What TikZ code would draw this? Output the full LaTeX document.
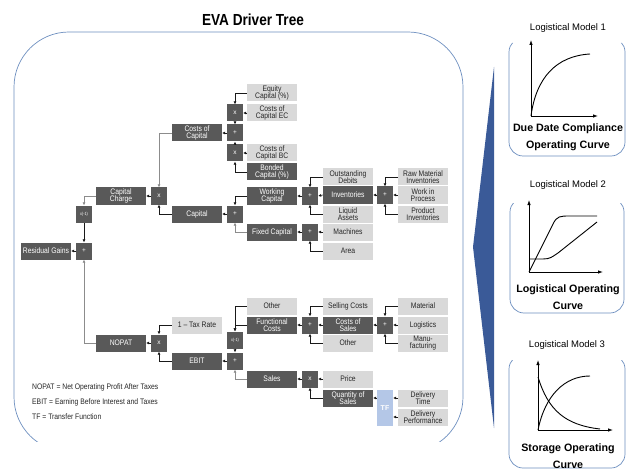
\documentclass[tikz,border=0pt]{standalone}
\usepackage{fontspec}
\setmainfont{Liberation Sans}
\newfontfamily\narrowfont[FakeStretch=0.85]{Liberation Sans}
\usepackage{tikz}
\usetikzlibrary{arrows.meta}
\definecolor{boxdark}{HTML}{595959}
\definecolor{boxlight}{HTML}{D9D9D9}
\definecolor{tfblue}{HTML}{B4C7E7}
\definecolor{frameblue}{HTML}{6C8EBF}
\definecolor{wedgeblue}{HTML}{3A5A98}

\begin{document}
\begin{tikzpicture}[
  x=1pt, y=-1pt,
  every node/.style={
    inner sep=0pt,
    align=center,
  },
  darkbox/.style={
    fill=boxdark,
    text=white,
    minimum width=50pt,
    minimum height=17pt,
    font=\narrowfont\fontsize{8}{7.5}\selectfont,
  },
  lightbox/.style={
    darkbox,
    fill=boxlight,
    text=black!85,
  },
  opbox/.style={
    fill=boxdark,
    text=white,
    minimum width=16pt,
    minimum height=17pt,
    font=\fontsize{6.5}{6.5}\selectfont,
  },
  negbox/.style={opbox, font=\narrowfont\fontsize{4.5}{4.5}\selectfont},
  link/.style={draw=black!90, line width=0.6pt, -{Latex[length=3pt,width=3pt]}},
  glink/.style={link, draw=black!45},
  axis/.style={line width=0.8pt, -{Latex[length=5pt,width=3.5pt]}},
  curve/.style={line width=0.9pt},
  legend/.style={anchor=west, text=black!85, font=\narrowfont\fontsize{8}{9}\selectfont},
  modeltitle/.style={font=\fontsize{9.5}{10}\selectfont},
  modelname/.style={font=\bfseries\fontsize{10.7}{17}\selectfont},
]
  \useasboundingbox (0,0) rectangle (626,473);

  % frames
  \begin{scope}
    \clip (0,0) rectangle (470,441);
    \draw[frameblue, line width=0.7pt, rounded corners=55pt] (14,32) rectangle (463,452);
  \end{scope}
  \begin{scope}
    \clip (500,43) rectangle (626,170) (500,203) rectangle (626,330) (500,360) rectangle (626,473);
    \draw[frameblue, line width=0.7pt, rounded corners=14pt] (509,38) rectangle (625,156);
    \draw[frameblue, line width=0.7pt, rounded corners=14pt] (510,198) rectangle (624,313);
    \draw[frameblue, line width=0.7pt, rounded corners=14pt] (509,355) rectangle (625,468);
  \end{scope}
  \fill[wedgeblue] (494,67) -- (473,247) -- (494,428) -- cycle;

  \node (title) at (253,20) {\narrowfont\bfseries\fontsize{16}{16}\selectfont EVA Driver Tree};

  % capital charge branch
  \node[lightbox] (eqcap) at (272,93) {Equity\\Capital (\%)};
  \node[lightbox] (ccec) at (272,113) {Costs of\\Capital EC};
  \node[lightbox] (ccbc) at (272,153) {Costs of\\Capital BC};
  \node[darkbox] (bonded) at (272,172) {Bonded\\Capital (\%)};
  \node[opbox] (mulec) at (235,113) {x};
  \node[opbox] (addcc) at (235,133) {+};
  \node[opbox] (mulbc) at (235,153) {x};
  \node[darkbox] (coc) at (197,133) {Costs of\\Capital};
  \node[opbox] (mulcharge) at (159,196) {x};
  \node[darkbox] (charge) at (121,196) {Capital\\Charge};
  \node[negbox] (negcharge) at (84,214) {x(-1)};
  \node[opbox] (addrg) at (84,251) {+};
  \node[darkbox] (resgain) at (46,251) {Residual Gains};
  \node[darkbox] (capital) at (197,214) {Capital};
  \node[opbox] (addcap) at (235,214) {+};
  \node[darkbox] (wc) at (272,196) {Working\\Capital};
  \node[darkbox] (fixcap) at (272,232) {Fixed Capital};
  \node[opbox] (addwc) at (310,196) {+};
  \node[opbox] (addfix) at (310,232) {+};
  \node[lightbox] (debits) at (348,177) {Outstanding\\Debits};
  \node[darkbox] (invent) at (348,195) {Inventories};
  \node[lightbox] (liquid) at (348,214) {Liquid\\Assets};
  \node[lightbox] (machines) at (348,232) {Machines};
  \node[lightbox] (area) at (348,251) {Area};
  \node[opbox] (addinv) at (385,195) {+};
  \node[lightbox] (rawmat) at (423,177) {Raw Material\\Inventories};
  \node[lightbox] (wip) at (423,195) {Work in\\Process};
  \node[lightbox] (prodinv) at (423,214) {Product\\Inventories};

  % nopat branch
  \node[darkbox] (nopat) at (121,343) {NOPAT};
  \node[opbox] (mulnopat) at (159,343) {x};
  \node[lightbox] (taxrate) at (197,325) {1 – Tax Rate};
  \node[darkbox] (ebit) at (197,361) {EBIT};
  \node[opbox] (addebit) at (235,361) {+};
  \node[negbox] (negfc) at (235,340) {x(-1)};
  \node[lightbox] (otherf) at (272,306) {Other};
  \node[darkbox] (func) at (272,325) {Functional\\Costs};
  \node[darkbox] (sales) at (272,379) {Sales};
  \node[opbox] (addfc) at (310,325) {+};
  \node[opbox] (mulsales) at (310,379) {x};
  \node[lightbox] (selling) at (348,306) {Selling Costs};
  \node[darkbox] (cos) at (348,325) {Costs of\\Sales};
  \node[lightbox] (others) at (348,343) {Other};
  \node[lightbox] (price) at (348,379) {Price};
  \node[darkbox] (qty) at (348,398) {Quantity of\\Sales};
  \node[opbox] (addcos) at (385,325) {+};
  \node[opbox, fill=tfblue, minimum height=36pt, font=\bfseries\fontsize{7}{7}\selectfont] (tf) at (385,408) {TF};
  \node[lightbox] (material) at (423,306) {Material};
  \node[lightbox] (logist) at (423,325) {Logistics};
  \node[lightbox] (manuf) at (423,343) {Manu-\\facturing};
  \node[lightbox] (dtime) at (423,398) {Delivery\\Time};
  \node[lightbox] (dperf) at (423,417) {Delivery\\Performance};

  % connectors
  \draw[link] (eqcap.west) -| (mulec.north);
  \draw[link] (ccec.west) -- (mulec.east);
  \draw[link] (mulec.south) -- (addcc.north);
  \draw[link] (mulbc.north) -- (addcc.south);
  \draw[link] (ccbc.west) -- (mulbc.east);
  \draw[link] (bonded.west) -| (mulbc.south);
  \draw[link] (addcc.west) -- (coc.east);
  \draw[glink] (coc.west) -| (mulcharge.north);
  \draw[link] (capital.west) -| (mulcharge.south);
  \draw[link] (mulcharge.west) -- (charge.east);
  \draw[glink] (charge.west) -| (negcharge.north);
  \draw[link] (negcharge.south) -- (addrg.north);
  \draw[link] (addrg.west) -- (resgain.east);
  \draw[glink] (nopat.west) -| (addrg.south);
  \draw[link] (addcap.west) -- (capital.east);
  \draw[link] (wc.west) -| (addcap.north);
  \draw[glink] (fixcap.west) -| (addcap.south);
  \draw[link] (addwc.west) -- (wc.east);
  \draw[link] (debits.west) -| (addwc.north);
  \draw[link] (invent.west) -- (addwc.east);
  \draw[link] (liquid.west) -| (addwc.south);
  \draw[link] (addinv.west) -- (invent.east);
  \draw[link] (rawmat.west) -| (addinv.north);
  \draw[link] (wip.west) -- (addinv.east);
  \draw[link] (prodinv.west) -| (addinv.south);
  \draw[link] (addfix.west) -- (fixcap.east);
  \draw[link] (machines.west) -- (addfix.east);
  \draw[link] (area.west) -| (addfix.south);

  \draw[link] (taxrate.west) -| (mulnopat.north);
  \draw[link] (ebit.west) -| (mulnopat.south);
  \draw[link] (mulnopat.west) -- (nopat.east);
  \draw[link] (otherf.west) -| (negfc.north);
  \draw[link] (func.west) -| (negfc.north);
  \draw[link] (negfc.south) -- (addebit.north);
  \draw[glink] (sales.west) -| (addebit.south);
  \draw[link] (addebit.west) -- (ebit.east);
  \draw[link] (addfc.west) -- (func.east);
  \draw[link] (selling.west) -| (addfc.north);
  \draw[link] (cos.west) -- (addfc.east);
  \draw[link] (others.west) -| (addfc.south);
  \draw[link] (addcos.west) -- (cos.east);
  \draw[link] (material.west) -| (addcos.north);
  \draw[link] (logist.west) -- (addcos.east);
  \draw[link] (manuf.west) -| (addcos.south);
  \draw[link] (mulsales.west) -- (sales.east);
  \draw[link] (price.west) -- (mulsales.east);
  \draw[link] (qty.west) -| (mulsales.south);
  \draw[link] (tf.west |- qty.east) -- (qty.east);
  \draw[link] (dtime.west) -- (dtime.west -| tf.east);
  \draw[link] (dperf.west) -- (dperf.west -| tf.east);

  % legend
  \node[legend] (leg1) at (32,387) {NOPAT = Net Operating Profit After Taxes};
  \node[legend] (leg2) at (32,402) {EBIT = Earning Before Interest and Taxes};
  \node[legend] (leg3) at (32,417) {TF = Transfer Function};

  % logistical models
  \node[modeltitle] (lm1) at (568,28) {Logistical Model 1};
  \coordinate (o1) at (531,116);
  \draw[axis] (o1) -- (531,40);
  \draw[axis] (o1) -- (598,116);
  \draw[curve] (o1) .. controls (536,78) and (556,56) .. (590,54);
  \node[modelname] (dd) at (568,137) {Due Date Compliance\\Operating Curve};

  \node[modeltitle] (lm2) at (568,185) {Logistical Model 2};
  \coordinate (o2) at (529,272);
  \draw[axis] (o2) -- (529,200);
  \draw[axis] (o2) -- (603,272);
  \draw[curve] (o2) -- (553,224) .. controls (557,216) and (560,216) .. (570,216) -- (597,216);
  \draw[curve] (529,259) -- (543,259) .. controls (550,259) and (552,257) .. (558,253) -- (597,222);
  \node[modelname] (loc) at (568,297) {Logistical Operating\\Curve};

  \node[modeltitle] (lm3) at (567,345) {Logistical Model 3};
  \coordinate (o3) at (538,430);
  \draw[axis] (o3) -- (538,360);
  \draw[axis] (o3) -- (613,430);
  \draw[curve] (o3) .. controls (545,395) and (565,376) .. (590,376);
  \draw[curve] (538,377) .. controls (548,410) and (565,425) .. (600,429);
  \node[modelname] (soc) at (568,456) {Storage Operating\\Curve};
\end{tikzpicture}
\end{document}
